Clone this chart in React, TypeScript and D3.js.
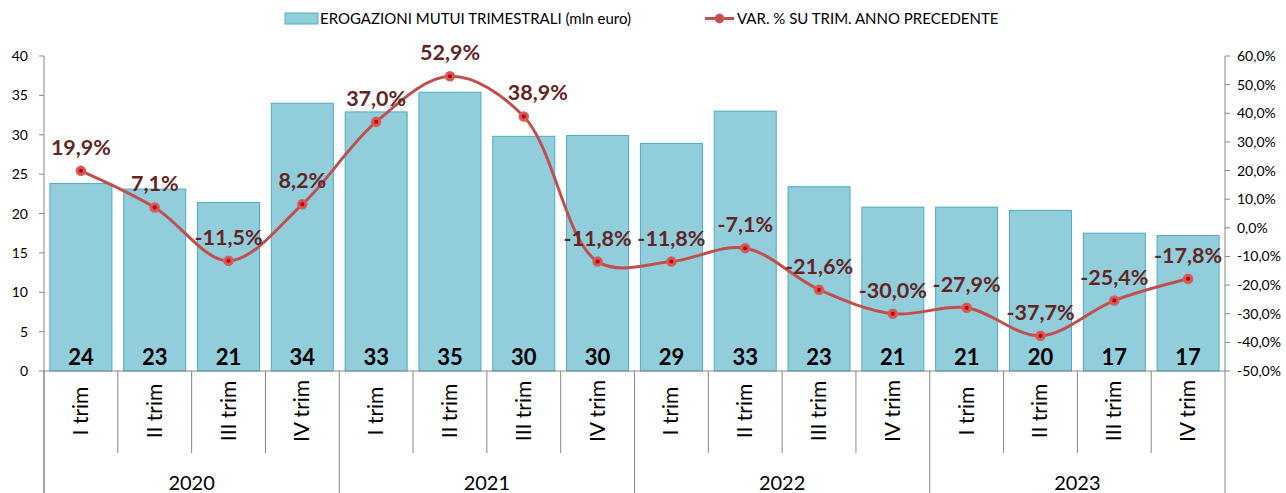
import React from "react";
import * as d3 from "d3";

const quarters = ["I trim", "II trim", "III trim", "IV trim"];
const years = ["2020", "2021", "2022", "2023"];
const barValues = [23.8, 23.1, 21.4, 34.0, 32.9, 35.4, 29.8, 29.9, 28.9, 33.0, 23.4, 20.8, 20.8, 20.4, 17.5, 17.2];
const barLabels = ["24", "23", "21", "34", "33", "35", "30", "30", "29", "33", "23", "21", "21", "20", "17", "17"];
const varValues = [19.9, 7.1, -11.5, 8.2, 37.0, 52.9, 38.9, -11.8, -11.8, -7.1, -21.6, -30.0, -27.9, -37.7, -25.4, -17.8];
const leftTicks = [0, 5, 10, 15, 20, 25, 30, 35, 40];
const rightTicks = [60, 50, 40, 30, 20, 10, 0, -10, -20, -30, -40, -50];
const legendBar = "EROGAZIONI MUTUI TRIMESTRALI (mln euro)";
const legendLine = "VAR. % SU TRIM. ANNO PRECEDENTE";

const FONT = "Lato, 'Open Sans', sans-serif";

export default function App() {
  const W = 1286, H = 493;
  const left = 44, right = 1225, top = 56, bottom = 371;
  const cats = years.flatMap((y) => quarters.map((q) => `${y}-${q}`));
  const x = d3.scaleBand().domain(cats).range([left, right]).paddingInner(0.16).paddingOuter(0.08);
  const step = (right - left) / cats.length;
  const yL = d3.scaleLinear().domain([0, 40]).range([bottom, top]);
  const yR = d3.scaleLinear().domain([-50, 60]).range([bottom, top]);
  const fmt = (v: number) => v.toFixed(1).replace(".", ",") + "%";
  const pts: [number, number][] = varValues.map((v, i) => [x(cats[i])! + x.bandwidth() / 2, yR(v)]);
  const line = d3.line().curve(d3.curveCatmullRom.alpha(0.5))(pts) || "";
  const red = "#C0504D";
  const labRed = "#632523";

  return (
    <svg width={W} height={H} style={{ position: "absolute", left: 0, top: 0, background: "#fff" }} fontFamily={FONT}>
      {/* legend */}
      <rect x={285} y={13} width={33} height={11} fill="#92CDDC" stroke="#4BACC6" strokeWidth={1} />
      <text x={320} y={24} fontSize={15} fill="#000">{legendBar}</text>
      <line x1={705} x2={734} y1={18.5} y2={18.5} stroke={red} strokeWidth={3} />
      <circle cx={719.5} cy={18.5} r={4.5} fill={red} stroke="#D06060" />
      <text x={737} y={24} fontSize={15} fill="#000">{legendLine}</text>

      {/* bars */}
      {barValues.map((v, i) => (
        <rect key={i} x={x(cats[i])} y={yL(v)} width={x.bandwidth()} height={bottom - yL(v)}
          fill="#92CDDC" stroke="#4BACC6" strokeWidth={1} />
      ))}
      {barLabels.map((t, i) => (
        <text key={i} x={x(cats[i])! + x.bandwidth() / 2} y={365} textAnchor="middle" fontSize={22} fontWeight="bold" fill="#000">{t}</text>
      ))}

      {/* left axis */}
      <line x1={left} x2={left} y1={top} y2={H} stroke="#868686" />
      {leftTicks.map((t) => (
        <g key={t}>
          <line x1={left - 5} x2={left} y1={yL(t)} y2={yL(t)} stroke="#868686" />
          <text x={28} y={yL(t) + 5} textAnchor="end" fontSize={14} fill="#000">{t}</text>
        </g>
      ))}
      {/* right axis */}
      <line x1={right} x2={right} y1={top} y2={H} stroke="#868686" />
      {rightTicks.map((t) => (
        <g key={t}>
          <line x1={right} x2={right + 5} y1={yR(t)} y2={yR(t)} stroke="#868686" />
          <text x={1237} y={yR(t) + 5} textAnchor="start" fontSize={14} fill="#000">{t.toFixed(1).replace(".", ",") + "%"}</text>
        </g>
      ))}
      {/* category axis */}
      <line x1={left} x2={right} y1={bottom} y2={bottom} stroke="#868686" />
      {cats.map((c, i) => {
        const xs = left + step * i;
        const isYear = i % 4 === 0;
        return <line key={c} x1={xs} x2={xs} y1={bottom} y2={isYear ? H : 453} stroke="#868686" />;
      })}
      {cats.map((c, i) => {
        const cx = x(c)! + x.bandwidth() / 2;
        return (
          <text key={c} transform={`translate(${cx + 7},411) rotate(-90)`} textAnchor="middle" fontSize={21} fill="#000">
            {quarters[i % 4]}
          </text>
        );
      })}
      {years.map((y, j) => (
        <text key={y} x={left + step * (4 * j + 2)} y={490} textAnchor="middle" fontSize={20} fill="#000">{y}</text>
      ))}

      {/* line */}
      <path d={line} fill="none" stroke={red} strokeWidth={3} />
      {pts.map(([px, py], i) => (
        <g key={i}>
          <circle cx={px} cy={py} r={4.5} fill="#D9534F" stroke="#D06060" strokeWidth={1.5} />
          <circle cx={px} cy={py} r={2} fill="#C00000" />
        </g>
      ))}
      {pts.map(([px, py], i) => (
        <text key={i} x={px + (i === 6 ? 14 : 0)} y={py - 16} textAnchor="middle" fontSize={21.5} fontWeight="bold" fill={labRed}>
          {fmt(varValues[i])}
        </text>
      ))}
    </svg>
  );
}
